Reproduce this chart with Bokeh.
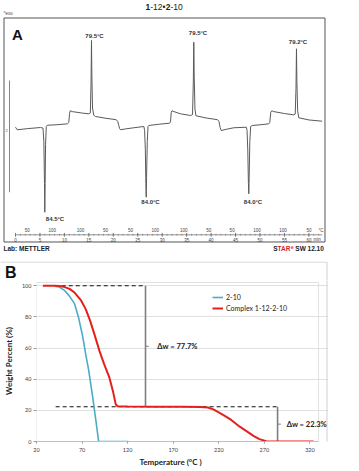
from bokeh.plotting import figure
from bokeh.layouts import column
from bokeh.models import Label, Range1d, Legend, LegendItem, Title
from bokeh.embed import file_html
from bokeh.resources import INLINE

# ---------------- Panel A: DSC trace of 1-12•2-10 (three heat/cool cycles) ----------------
dsc_time_min = [0.0, 0.35, 2.5, 5.11, 5.62, 5.8, 5.93, 5.99, 6.06, 6.15, 6.3, 6.48,
                8.5, 10.6, 10.9, 11.05, 11.2, 11.6, 13.5, 14.99,
                15.3, 15.45, 15.54, 15.62, 15.75, 16.0, 16.36, 18.5, 20.6, 20.9, 21.12, 21.3, 21.47,
                22.5, 24.19, 26.24, 26.4, 26.55, 26.66, 26.73, 26.8, 26.95, 27.1, 27.26,
                29.5, 31.5, 31.7, 31.85, 32.0, 32.4, 33.74, 35.79, 36.2,
                36.36, 36.46, 36.55, 36.7, 36.9, 39.0, 41.3, 41.6, 41.85, 42.07, 43.2, 44.64,
                47.2, 47.35, 47.5, 47.63, 47.71, 47.78, 47.92, 48.1, 48.4,
                50.2, 51.8, 52.0, 52.2, 52.4, 52.8, 55.0, 56.91, 57.2,
                57.36, 57.46, 57.55, 57.7, 57.93, 60.0, 62.72]
dsc_heat_flow_mw = [0.005, -0.041, -0.02, 0.0, -0.01, -0.25, -1.0, -1.517, -1.0, -0.3, 0.02, 0.04,
                    0.05, 0.066, 0.09, 0.25, 0.30, 0.285, 0.26, 0.245,
                    0.26, 0.8, 1.558, 0.9, 0.35, 0.22, 0.197, 0.165, 0.14, 0.11, 0.036, -0.02, -0.041,
                    -0.025, -0.005, 0.018, -0.05, -0.4, -1.0, -1.248, -0.9, -0.25, 0.02, 0.036,
                    0.06, 0.077, 0.1, 0.27, 0.30, 0.285, 0.245, 0.215, 0.23,
                    0.8, 1.527, 0.9, 0.33, 0.21, 0.17, 0.14, 0.11, 0.0, -0.054, -0.03, -0.005,
                    0.005, -0.05, -0.4, -1.0, -1.187, -0.9, -0.25, 0.02, 0.036,
                    0.05, 0.066, 0.09, 0.27, 0.30, 0.285, 0.25, 0.227, 0.24,
                    0.7, 1.409, 0.8, 0.3, 0.174, 0.135, 0.113]

peak_labels = ["79.5°C", "79.5°C", "79.2°C"]
dip_labels = ["84.5°C", "84.0°C", "84.0°C"]

time_ticks_min = [0, 5, 10, 15, 20, 25, 30, 35, 40, 45, 50, 55, 60]
temp_marks_min = [2.4, 7.5, 13.3, 18.4, 23.5, 28.6, 34.4, 39.5, 44.3, 49.4, 54.7, 60.0]
temp_marks_c = ["50", "100", "100", "50", "50", "100", "100", "50", "50", "100", "100", "50"]
scale_bar_mw = 2

# ---------------- Panel B: TGA curves ----------------
temp_210 = [40, 45, 50.8, 56, 61.7, 66, 70.8, 74, 77.3, 81.6, 85, 88.2, 121]
wt_210 = [99.7, 99.2, 97, 93.5, 88.5, 80, 67, 56, 45.7, 28.6, 14, 0, 0]

temp_complex = [27, 40, 45, 50, 56.3, 62, 68.9, 74, 78.7, 84, 88.9, 94, 99.8, 104, 107, 109,
                120, 150, 180, 200, 208, 214, 219, 227, 234, 243, 252, 258, 264.6, 272, 280, 324]
wt_complex = [100, 100, 99.8, 99.3, 98, 95.5, 90.6, 85, 77.8, 68, 58.5, 50, 41.4, 32, 23.7, 22.6,
              22.4, 22.3, 22.3, 22.2, 21.8, 20.6, 19, 16.3, 13.7, 9.5, 6, 3.6, 1.5, 0.2, 0, 0]

loss_first = 77.7
loss_second = 22.3
x_ticks_b = [20, 70, 120, 170, 220, 270, 320]
y_ticks_b = [0, 20, 40, 60, 80, 100]

FONT_A = "Liberation Sans"
FONT_B = "Lato"
INK = "#333333"
PANEL_EDGE = "#d0d0d0"


def lab(p, x, y, text, size, style="normal", color=INK, align="left", font=FONT_A, baseline="middle"):
    p.add_layout(Label(x=x, y=y, text=text, text_font=font, text_font_size=size,
                       text_font_style=style, text_color=color, text_align=align,
                       text_baseline=baseline))


# ======================= Panel A =======================
# the frame spans the whole canvas so that the chrome around the trace can be drawn too
pa = figure(width=359, height=261, output_backend="svg", toolbar_location=None,
            x_range=Range1d(-3.0675, 70.348), y_range=Range1d(-2.3993, 2.2740),
            x_axis_type=None, y_axis_type=None, frame_align=False,
            min_border_left=0, min_border_right=0, min_border_top=0, min_border_bottom=0)
pa.grid.visible = False
pa.outline_line_color = None
pa.background_fill_color = "white"
pa.border_fill_color = "white"


def ax(xp):
    # page x position (px) -> minutes in panel A
    return (xp - 15) / 4.89


def ay(yp):
    # page y position (px) -> mW in panel A
    return (127 - yp) / 55.85


# instrument box
pa.quad(left=[ax(3.5)], right=[ax(324.5)], top=[ay(17.5)], bottom=[ay(241.5)],
        fill_alpha=0, line_color="#555555", line_width=1)

pa.line(dsc_time_min, dsc_heat_flow_mw, line_color="#5a5a5a", line_width=1)

# peak / dip annotations
peak_pos = [(94, 35.5), (197.5, 32.3), (297.5, 41.3)]
for (xp, yp), t in zip(peak_pos, peak_labels):
    lab(pa, ax(xp), ay(yp), t, "6px", "bold", align="center")
dip_pos = [(54.5, 219), (150, 201.7), (252.5, 201.7)]
for (xp, yp), t in zip(dip_pos, dip_labels):
    lab(pa, ax(xp), ay(yp), t, "6px", "bold", align="center")

# time ruler along the bottom of the box
ruler_y = ay(234.3)
pa.segment(x0=[0], y0=[ruler_y], x1=[62.7], y1=[ruler_y], line_color="#777777", line_width=0.8)
minor = list(range(0, 63))
pa.segment(x0=minor, y0=[ruler_y - 0.018] * len(minor), x1=minor, y1=[ruler_y + 0.018] * len(minor),
           line_color="#777777", line_width=0.6)
pa.segment(x0=time_ticks_min, y0=[ruler_y - 0.035] * len(time_ticks_min),
           x1=time_ticks_min, y1=[ruler_y + 0.035] * len(time_ticks_min),
           line_color="#555555", line_width=0.7)
for t in time_ticks_min:
    lab(pa, t, ay(239.3), str(t), "4.5px", align="center", color="#444444")
for t, s in zip(temp_marks_min, temp_marks_c):
    lab(pa, t, ay(229.8), s, "4.5px", align="center", color="#444444")
lab(pa, ax(316.7), ay(239.3), "min", "4.5px", align="center", color="#444444")
lab(pa, ax(320.5), ay(229.8), "°C", "4.5px", align="center", color="#444444")

# heat-flow scale bar
bar_x = ax(9)
pa.segment(x0=[bar_x], y0=[ay(80)], x1=[bar_x], y1=[ay(80) - scale_bar_mw], line_color="#666666", line_width=0.8)
lab(pa, ax(6), ay(129.5), str(scale_bar_mw), "4px", color="#555555", align="center")

# panel letter, title and instrument footer
lab(pa, ax(11.5), ay(34), "A", "15px", "bold", color="#111111")
lab(pa, ax(3), ay(13), "^exo", "4.5px", color="#444444")
lab(pa, ax(3), ay(248.5), "Lab: METTLER", "6.5px", "bold", color="#222222")

title_parts = [("1", "bold", "left", 145.0), ("-12", "normal", "left", 149.7), ("•", "normal", "center", 163.4),
               ("2", "bold", "left", 165.2), ("-10", "normal", "left", 169.9)]
for txt, st, al, xp in title_parts:
    lab(pa, ax(xp), ay(6.5), txt, "8.5px", st, color="#222222", align=al)

star_parts = [("S", "#222222", 272.7, 248.5, "6.5px"), ("TAR", "#d42a2a", 277.0, 248.5, "6.5px"),
              ("e", "#d42a2a", 290.4, 246.3, "4.5px"), ("SW 12.10", "#222222", 294.8, 248.5, "6.5px")]
for txt, col, xp, yp, sz in star_parts:
    lab(pa, ax(xp), ay(yp), txt, sz, "bold", color=col)

# ======================= Panel B header (letter and frame top) =======================
hb = figure(width=359, height=19, output_backend="svg", toolbar_location=None,
            x_range=Range1d(0, 359), y_range=Range1d(19, 0),
            x_axis_type=None, y_axis_type=None, frame_align=False,
            min_border_left=0, min_border_right=0, min_border_top=0, min_border_bottom=0)
hb.grid.visible = False
hb.outline_line_color = None
hb.background_fill_color = "white"
hb.border_fill_color = "white"
hb.segment(x0=[0, 326.5], y0=[0.5, 0.5], x1=[326.5, 326.5], y1=[0.5, 19],
           line_color=PANEL_EDGE, line_width=1)
lab(hb, 4.5, 10.5, "B", "16px", "bold", "#111111", font=FONT_A)

# ======================= Panel B =======================
X_END = 20 + 295 / 0.9208
Y_TOP = 161 / 1.5573
pb = figure(width=359, height=191, output_backend="svg", toolbar_location=None,
            x_range=Range1d(20, X_END), y_range=Range1d(0, Y_TOP), frame_align=False,
            min_border_left=33, min_border_right=31, min_border_top=0, min_border_bottom=30)
pb.background_fill_color = "white"
pb.border_fill_color = "white"
pb.outline_line_color = None
pb.xgrid.grid_line_color = None
pb.ygrid.grid_line_color = "#d9d9d9"
pb.ygrid.grid_line_width = 0.8
pb.ygrid.bounds = (20, 329.5)
pb.xaxis.ticker = x_ticks_b
pb.yaxis.ticker = y_ticks_b
pb.xaxis.bounds = (20, 329.5)
for axis in (pb.xaxis, pb.yaxis):
    axis.major_label_text_font = FONT_B
    axis.major_label_text_font_size = "5.5px"
    axis.major_label_text_color = "#404040"
    axis.axis_label_text_font = FONT_B
    axis.axis_label_text_font_size = "8px"
    axis.axis_label_text_font_style = "bold"
    axis.axis_label_text_color = "#222222"
    axis.minor_tick_line_color = None
    axis.major_tick_in = 0
    axis.major_tick_line_color = "#9a9a9a"
pb.yaxis.axis_label = "Weight Percent (%)"
pb.yaxis.axis_line_color = None
pb.yaxis.major_tick_out = 3
pb.yaxis.major_label_standoff = 2
pb.yaxis.axis_label_standoff = 5
pb.xaxis.axis_line_color = "#bfbfbf"
pb.xaxis.major_tick_out = 2
pb.xaxis.major_label_standoff = 4
pb.add_layout(Title(text="Temperature (°C )", align="left", offset=103, standoff=0,
                    text_font=FONT_B, text_font_size="8px", text_font_style="bold",
                    text_color="#222222"), "below")

# plot-area border and the panel's right edge
pb.quad(left=[20], right=[329.5], bottom=[0], top=[102.1], fill_alpha=0,
        line_color="#d9d9d9", line_width=0.8)
edge_x = 20 + (326.5 - 33) / 0.9208
pb.segment(x0=[edge_x], y0=[-5], x1=[edge_x], y1=[Y_TOP + 5], line_color=PANEL_EDGE, line_width=1)

plateau = 100 - loss_first
residue = plateau - loss_second
x_step1 = 139.6
x_step2 = 284.5

# guide lines showing the two weight-loss steps
pb.segment(x0=[40, 41, 188.5], y0=[100, plateau, residue], x1=[x_step1, x_step2, x_step2],
           y1=[100, plateau, residue], line_color="#111111", line_width=1.2, line_dash="4 3")
pb.segment(x0=[x_step1, x_step2], y0=[100, plateau], x1=[x_step1, x_step2], y1=[plateau, residue],
           line_color="#7f7f7f", line_width=1.6)
pb.segment(x0=[x_step1, x_step2], y0=[(100 + plateau) / 2, (plateau + residue) / 2],
           x1=[x_step1 + 3.6, x_step2 + 3.6], y1=[(100 + plateau) / 2, (plateau + residue) / 2],
           line_color="#7f7f7f", line_width=1)

r1 = pb.line(temp_210, wt_210, line_color="#4bacc6", line_width=1.6)
r2 = pb.line(temp_complex, wt_complex, line_color="#e3211c", line_width=2)

lab(pb, x_step1 + 13, (100 + plateau) / 2, f"Δw = {loss_first}%", "7.5px", "bold", "#222222", font=FONT_B)
lab(pb, x_step2 + 10, (plateau + residue) / 2, f"Δw = {loss_second}%", "7.5px", "bold", "#222222", font=FONT_B)

legend = Legend(items=[LegendItem(label="2-10", renderers=[r1]),
                       LegendItem(label="Complex 1-12-2-10", renderers=[r2])],
                location=(176, 129), orientation="vertical",
                background_fill_alpha=0, border_line_color=None,
                label_text_font=FONT_B, label_text_font_size="7px", label_text_color="#222222",
                glyph_width=11, glyph_height=8, label_height=9, label_standoff=3,
                spacing=2, padding=0, margin=0)
pb.add_layout(legend)

layout = column(pa, hb, pb, spacing=0)
open("out.html", "w").write(file_html(layout, INLINE))
